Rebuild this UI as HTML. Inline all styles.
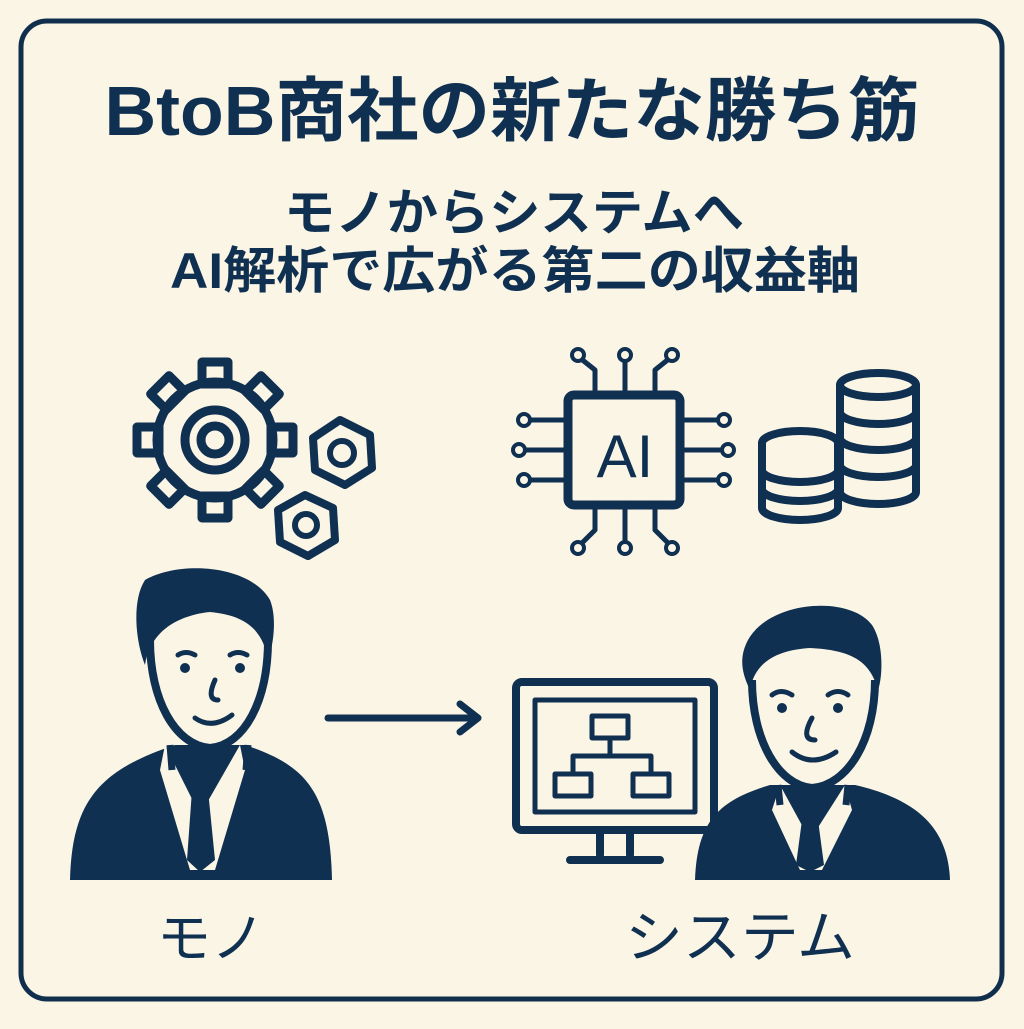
<!DOCTYPE html>
<html><head><meta charset="utf-8"><style>
body{margin:0;width:1024px;height:1024px;background:#fbf5e6;overflow:hidden;font-family:"Liberation Sans","Noto Sans CJK JP",sans-serif;}
</style></head><body>
<svg width="1024" height="1024" viewBox="0 0 1024 1024" xmlns="http://www.w3.org/2000/svg">
<rect width="1024" height="1024" fill="#fbf5e6"/>
<rect x="21" y="21" width="981" height="978" rx="26" fill="none" stroke="#0f2f4d" stroke-width="5"/>
<g fill="#0f3050" font-family="Liberation Sans, Noto Sans CJK JP, sans-serif" font-weight="bold" text-anchor="middle">
<text x="512" y="135" font-size="70" textLength="815" lengthAdjust="spacingAndGlyphs">BtoB商社の新たな勝ち筋</text>
<text x="514" y="230" font-size="50" textLength="460" lengthAdjust="spacingAndGlyphs">モノからシステムへ</text>
<text x="515" y="288" font-size="50" textLength="690" lengthAdjust="spacingAndGlyphs">AI解析で広がる第二の収益軸</text>
<text x="211" y="957" font-size="54" font-weight="normal">モノ</text>
<text x="740" y="957" font-size="56" font-weight="normal" textLength="230" lengthAdjust="spacingAndGlyphs">システム</text>
<text x="625" y="477" font-size="60" font-weight="normal">AI</text>
</g>
<g fill="none" stroke="#0f3050" stroke-width="9" stroke-linejoin="round" stroke-linecap="round">
<g transform="translate(215,440)">
<circle r="58"/>
<circle r="30"/><circle r="14"/>
<g stroke-width="9">
<rect x="-13" y="-78" width="26" height="22"/>
<rect x="-13" y="56" width="26" height="22"/>
<rect x="-78" y="-13" width="22" height="26"/>
<rect x="56" y="-13" width="22" height="26"/>
<rect x="-13" y="-78" width="26" height="22" transform="rotate(45)"/>
<rect x="-13" y="-78" width="26" height="22" transform="rotate(135)"/>
<rect x="-13" y="-78" width="26" height="22" transform="rotate(225)"/>
<rect x="-13" y="-78" width="26" height="22" transform="rotate(315)"/>
</g>
</g>
<polygon points="340,420 370,435 372,468 345,485 315,470 313,438" stroke-width="8"/>
<circle cx="342" cy="453" r="12" stroke-width="6"/>
<polygon points="305,495 333,508 335,540 308,556 280,542 278,510" stroke-width="8"/>
<circle cx="306" cy="525" r="11" stroke-width="6"/>
<rect x="568" y="395" width="112" height="110" rx="6"/>
<g stroke-width="5">
<path d="M595 395 V370 L580 358 M625 395 V358 M655 395 V370 L670 358"/>
<path d="M595 505 V530 L580 545 M625 505 V545 M655 505 V530 L670 545"/>
<path d="M568 420 H530 M568 450 H525 M568 480 H530"/>
<path d="M680 420 H718 M680 450 H722 M680 480 H718"/>
</g>
<g stroke-width="4" fill="#fbf5e6">
<circle cx="578" cy="355" r="6"/><circle cx="625" cy="355" r="6"/><circle cx="672" cy="355" r="6"/>
<circle cx="578" cy="548" r="6"/><circle cx="625" cy="548" r="6"/><circle cx="672" cy="548" r="6"/>
<circle cx="524" cy="420" r="6"/><circle cx="519" cy="450" r="6"/><circle cx="524" cy="480" r="6"/>
<circle cx="724" cy="420" r="6"/><circle cx="728" cy="450" r="6"/><circle cx="724" cy="480" r="6"/>
</g>
<g stroke-width="8">
<ellipse cx="878" cy="385" rx="38" ry="12"/>
<path d="M840 385 V492 A38 12 0 0 0 916 492 V385 M840 412 A38 12 0 0 0 916 412 M840 438 A38 12 0 0 0 916 438 M840 465 A38 12 0 0 0 916 465"/>
<ellipse cx="800" cy="443" rx="38" ry="12" fill="#fbf5e6"/>
<path d="M762 443 V508 A38 12 0 0 0 838 508 V443 M762 470 A38 12 0 0 0 838 470" fill="#fbf5e6"/>
<path d="M762 489 A38 12 0 0 0 838 489"/>
</g>
<path d="M328 718 H478 M460 704 L478 718 L460 732" stroke-width="7"/>
<rect x="516" y="682" width="198" height="148" rx="6" stroke-width="8"/>
<rect x="535" y="700" width="160" height="112" stroke-width="5"/>
<path d="M600 830 V855 M630 830 V855 M570 860 H660" stroke-width="8"/>
<g stroke-width="5">
<rect x="592" y="716" width="36" height="22"/>
<rect x="555" y="774" width="36" height="22"/>
<rect x="633" y="774" width="36" height="22"/>
<path d="M610 738 V756 M573 774 V756 H651 V774"/>
</g>
</g>
<g fill="#0f3050">
<path d="M70 880 C72 800 100 770 175 745 L245 745 C305 765 330 790 332 880 Z"/>
<path d="M165 745 L200 815 L240 745 L245 770 L215 870 L190 870 L160 770 Z" fill="#fbf5e6"/>
<path d="M192 790 L208 790 L215 860 L200 872 L187 860 Z"/>
<path d="M145 580 C180 560 250 565 270 600 C278 620 272 650 268 660 C262 625 240 615 210 612 C180 615 150 630 145 665 C135 640 132 600 145 580 Z"/>
</g>
<path d="M150 640 C150 700 175 745 210 748 C245 745 268 700 268 640" fill="none" stroke="#0f3050" stroke-width="8"/>
<path d="M170 745 L172 770 M248 745 L246 770" stroke="#0f3050" stroke-width="7"/>
<g fill="#0f3050"><circle cx="185" cy="668" r="5"/><circle cx="240" cy="668" r="5"/></g>
<path d="M178 655 Q186 650 195 655 M230 655 Q238 650 247 655 M215 680 Q206 700 218 700 M195 718 Q212 730 232 715" fill="none" stroke="#0f3050" stroke-width="5" stroke-linecap="round"/>
<g fill="#0f3050">
<path d="M695 880 C697 820 720 800 770 785 L855 785 C920 800 948 830 950 880 Z"/>
<path d="M780 785 L810 840 L845 785 L852 810 L822 870 L800 870 L772 810 Z" fill="#fbf5e6"/>
<path d="M802 820 L818 820 L824 865 L810 872 L796 865 Z"/>
<path d="M748 640 C770 600 850 595 872 625 C885 645 882 680 878 690 C870 660 850 650 810 648 C780 650 755 660 750 690 C740 670 740 655 748 640 Z"/>
</g>
<path d="M752 680 C752 740 778 785 812 788 C848 785 875 740 875 680" fill="none" stroke="#0f3050" stroke-width="8"/>
<path d="M778 785 L780 805 M848 785 L846 805" stroke="#0f3050" stroke-width="7"/>
<g fill="#0f3050"><circle cx="782" cy="708" r="5"/><circle cx="838" cy="708" r="5"/></g>
<path d="M772 695 Q781 688 792 695 M828 695 Q838 688 848 695 M812 718 Q800 740 815 740 M792 752 Q812 768 836 752" fill="none" stroke="#0f3050" stroke-width="5" stroke-linecap="round"/>
</svg>
</body></html>
